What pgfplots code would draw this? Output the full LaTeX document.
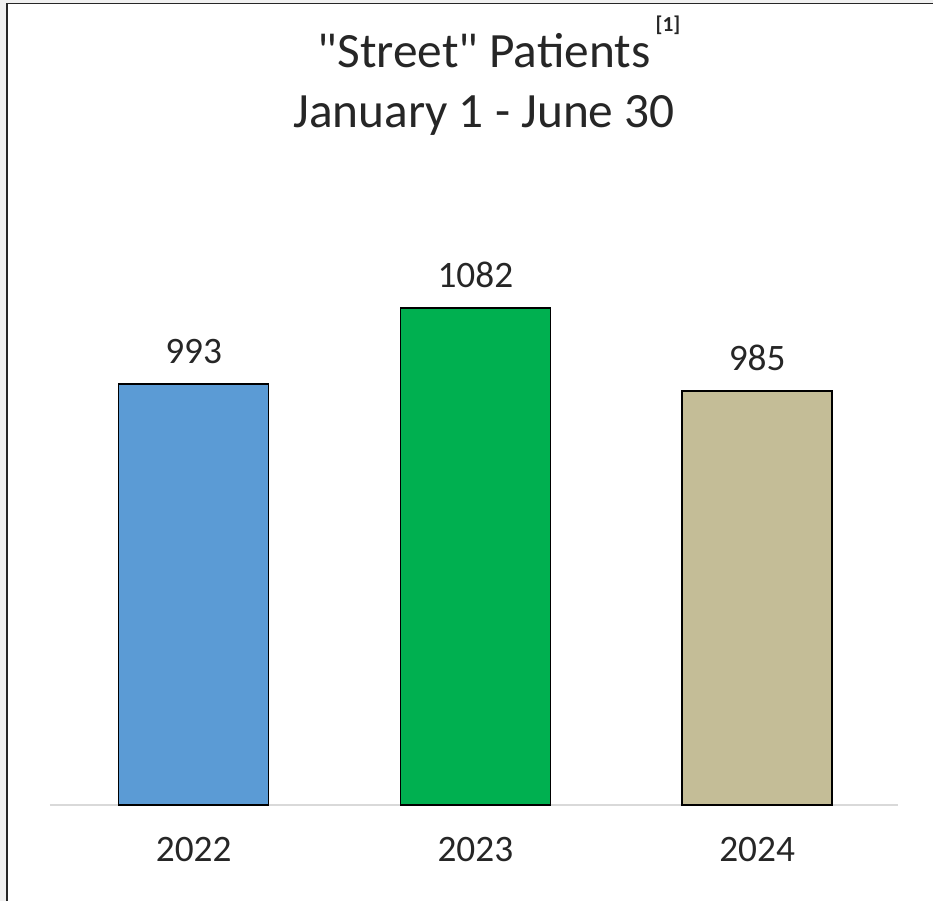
\documentclass[border=0pt]{standalone}
\usepackage{fontspec}
\setmainfont{Carlito}
\newfontfamily\plainfont{Carlito}
\usepackage{pgfplots}
\pgfplotsset{compat=1.18}
\definecolor{bluebar}{HTML}{5B9BD5}
\definecolor{greenbar}{HTML}{00B050}
\definecolor{tanbar}{HTML}{C4BD97}
\definecolor{axisgray}{HTML}{D9D9D9}
\definecolor{txt}{HTML}{262626}
\begin{document}
\begin{tikzpicture}
\useasboundingbox (-37.5pt,-72pt) rectangle (662.25pt,603.75pt);
% outer frame (left and top edges of the screenshot)
\fill[black!6] (-37.5pt,-72pt) rectangle (-32.8pt,603.75pt);
\fill[black!6] (-37.5pt,601.8pt) rectangle (662.25pt,603.75pt);
\draw[line width=1.3pt, black!85] (-32pt,-72pt) -- (-32pt,601.2pt) -- (662.25pt,601.2pt);
\begin{axis}[
    at={(0,0)}, anchor=south west, scale only axis,
    width=636pt, height=448.3pt,
    ybar, bar width=112.5pt, bar shift=0pt,
    xmin=-0.51, xmax=2.5, ymin=500, ymax=1200,
    axis y line=none, axis x line*=bottom,
    x axis line style={draw=axisgray, line width=1.5pt},
    xtick={0,1,2}, xticklabels={2022,2023,2024},
    major tick length=0pt,
    xticklabel style={font=\fontsize{28}{34}\selectfont, text=txt, yshift=-21pt},
    nodes near coords,
    every node near coord/.append style={font=\fontsize{28}{34}\selectfont, text=txt, yshift=11pt},
    /pgf/number format/1000 sep={},
    /pgf/number format/assume math mode=true,
]
\addplot[fill=bluebar, draw=black, line width=1pt] coordinates {(0,993)};
\addplot[fill=greenbar, draw=black, line width=1pt] coordinates {(1,1082)};
\addplot[fill=tanbar, draw=black, line width=1pt] coordinates {(2,985)};
\end{axis}
\node[anchor=base, font=\plainfont\fontsize{37}{44}\selectfont, text=txt] at (325.5pt,553pt) {"Street" Patients};
\node[anchor=base west, inner sep=0pt, font=\fontsize{16}{18}\selectfont\bfseries, text=txt] at (454pt,580pt) {[1]};
\node[anchor=base, font=\fontsize{37}{44}\selectfont, text=txt] at (325.5pt,508pt) {January 1 - June 30};
\end{tikzpicture}
\end{document}
